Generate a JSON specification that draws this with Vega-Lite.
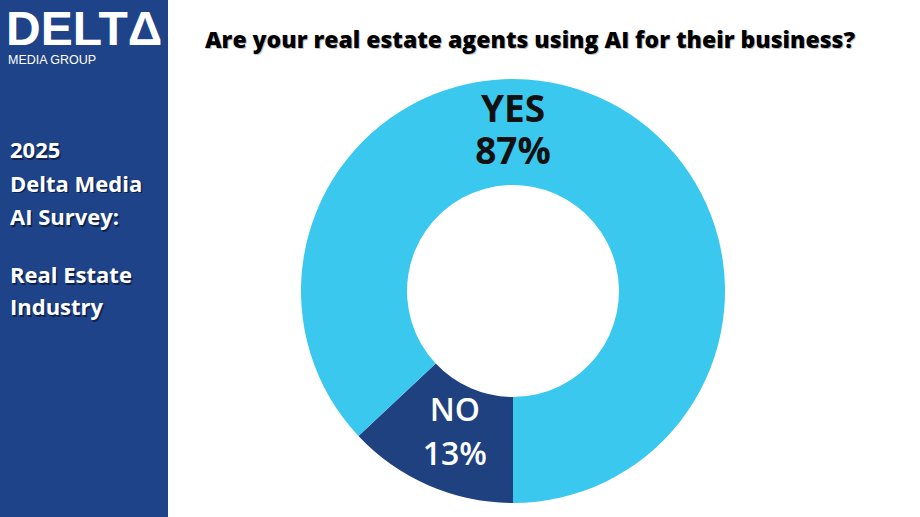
{
  "$schema": "https://vega.github.io/schema/vega-lite/v6.json",
  "padding": 0,
  "spacing": 0,
  "background": "#ffffff",
  "config": {"view": {"stroke": null}, "concat": {"spacing": 0}},
  "hconcat": [
    {
      "width": 168,
      "height": 517,
      "view": {"fill": "#1e4388", "stroke": null},
      "data": {"values": [{}]},
      "layer": [
        {"mark": {"type": "text", "text": "DELTΔ", "x": 6, "y": 45, "align": "left", "baseline": "alphabetic", "font": "Liberation Sans", "fontWeight": "bold", "fontSize": 48, "color": "#ffffff"}, "encoding": {}},
        {"mark": {"type": "text", "text": "MEDIA GROUP", "x": 8, "y": 64, "align": "left", "baseline": "alphabetic", "font": "Liberation Sans", "fontSize": 12.5, "color": "#ffffff"}, "encoding": {}},
        {"mark": {"type": "text", "text": ["2025", "Delta Media", "AI Survey:"], "x": 11.5, "y": 159.5, "align": "left", "baseline": "alphabetic", "lineHeight": 33.5, "font": "Open Sans", "fontWeight": "bold", "fontSize": 22, "color": "#0a1838", "opacity": 0.75}, "encoding": {}},
        {"mark": {"type": "text", "text": ["2025", "Delta Media", "AI Survey:"], "x": 10, "y": 158, "align": "left", "baseline": "alphabetic", "lineHeight": 33.5, "font": "Open Sans", "fontWeight": "bold", "fontSize": 22, "color": "#ffffff"}, "encoding": {}},
        {"mark": {"type": "text", "text": ["Real Estate", "Industry"], "x": 11.5, "y": 284.5, "align": "left", "baseline": "alphabetic", "lineHeight": 32, "font": "Open Sans", "fontWeight": "bold", "fontSize": 22, "color": "#0a1838", "opacity": 0.75}, "encoding": {}},
        {"mark": {"type": "text", "text": ["Real Estate", "Industry"], "x": 10, "y": 283, "align": "left", "baseline": "alphabetic", "lineHeight": 32, "font": "Open Sans", "fontWeight": "bold", "fontSize": 22, "color": "#ffffff"}, "encoding": {}}
      ]
    },
    {
      "spacing": 0,
      "vconcat": [
        {
          "width": 690,
          "height": 65,
          "data": {"values": [{}]},
          "layer": [
            {"mark": {"type": "text", "text": "Are your real estate agents using AI for their business?", "dx": 18, "dy": 16, "baseline": "alphabetic", "font": "Open Sans", "fontWeight": 800, "fontSize": 23, "color": "#9a9a9a", "opacity": 0.6}, "encoding": {}},
            {"mark": {"type": "text", "text": "Are your real estate agents using AI for their business?", "dx": 17, "dy": 15, "baseline": "alphabetic", "font": "Open Sans", "fontWeight": 800, "fontSize": 23, "color": "#000000"}, "encoding": {}}
          ]
        },
        {
          "width": 690,
          "height": 452,
          "data": {"values": [
            {"answer": "NO", "value": 13, "label": "NO\n13%"},
            {"answer": "YES", "value": 87, "label": "YES\n87%"}
          ]},
          "layer": [
            {
              "mark": {"type": "arc", "innerRadius": 106, "outerRadius": 212, "stroke": null},
              "encoding": {
                "theta": {"field": "value", "type": "quantitative", "stack": true, "scale": {"domain": [0, 100], "range": [3.14159265, 9.42477796]}},
                "color": {"field": "answer", "type": "nominal", "scale": {"domain": ["NO", "YES"], "range": ["#1f4180", "#3ac8ee"]}, "legend": null},
                "order": {"field": "answer", "sort": "ascending"}
              }
            },
            {
              "transform": [{"filter": "datum.answer == 'NO'"}],
              "mark": {"type": "text", "radius": 154, "dy": -21, "dx": 3, "lineBreak": "\n", "lineHeight": 44, "baseline": "middle", "align": "center", "font": "Open Sans", "fontWeight": 600, "fontSize": 32, "color": "#ffffff"},
              "encoding": {
                "theta": {"field": "value", "type": "quantitative", "stack": true},
                "text": {"field": "label", "type": "nominal"}
              }
            },
            {
              "transform": [{"filter": "datum.answer == 'YES'"}],
              "mark": {"type": "text", "dy": -180, "lineBreak": "\n", "lineHeight": 42, "baseline": "middle", "align": "center", "font": "Open Sans", "fontWeight": 700, "fontSize": 37, "color": "#111111"},
              "encoding": {
                "text": {"field": "label", "type": "nominal"}
              }
            }
          ]
        }
      ]
    }
  ]
}
